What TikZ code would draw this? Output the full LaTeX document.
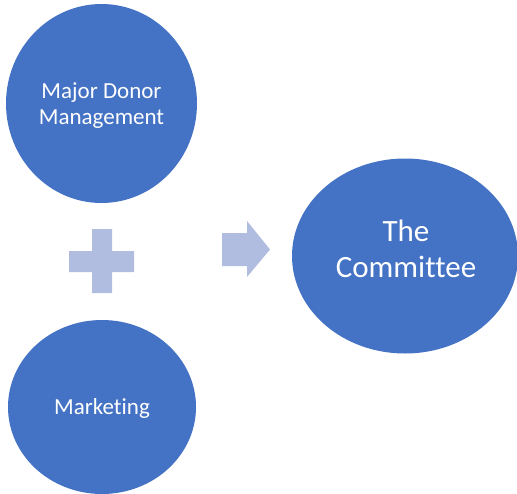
\documentclass[tikz,border=0pt]{standalone}
\usepackage{fontspec}
\setmainfont[Ligatures=NoCommon]{Carlito}
\usetikzlibrary{shapes.geometric}
\definecolor{circblue}{RGB}{68,114,196}
\definecolor{lightblue}{RGB}{176,188,224}
\tikzset{
  circ/.style={ellipse, fill=circblue, draw=none, inner sep=0pt},
  lbl/.style={text=white, align=center, inner sep=0pt},
  small/.style={font=\fontsize{23}{26}\selectfont},
  big/.style={font=\fontsize{31}{36}\selectfont},
  light/.style={fill=lightblue, draw=none}
}
\begin{document}
\begin{tikzpicture}[x=1pt,y=-1pt]
\useasboundingbox (0,0) rectangle (517,493);
\node[circ, minimum width=191pt, minimum height=199pt] (donor) at (101.5,103.5) {};
\node[lbl, small] (donortext) at (101.5,105.5) {Major Donor\\Management};
\node[circ, minimum width=188pt, minimum height=174pt] (marketing) at (102,407) {};
\node[lbl, small] (marketingtext) at (102,408) {Marketing};
\node[circ, minimum width=226pt, minimum height=195pt] (committee) at (405,256) {};
\node[lbl, big] (committeetext) at (406,249) {The\\Committee};
% plus sign
\coordinate (plus) at (101.5,261);
\fill[light] (92,229) -- (112,229) -- (112,251) -- (134,251) -- (134,272) -- (112,272) -- (112,293) -- (92,293) -- (92,272) -- (69,272) -- (69,251) -- (92,251) -- cycle;
% arrow
\coordinate (arrowtip) at (270,249.5);
\fill[light] (222,233) -- (247,233) -- (247,221) -- (arrowtip) -- (247,277) -- (247,266) -- (222,266) -- cycle;
\end{tikzpicture}
\end{document}
